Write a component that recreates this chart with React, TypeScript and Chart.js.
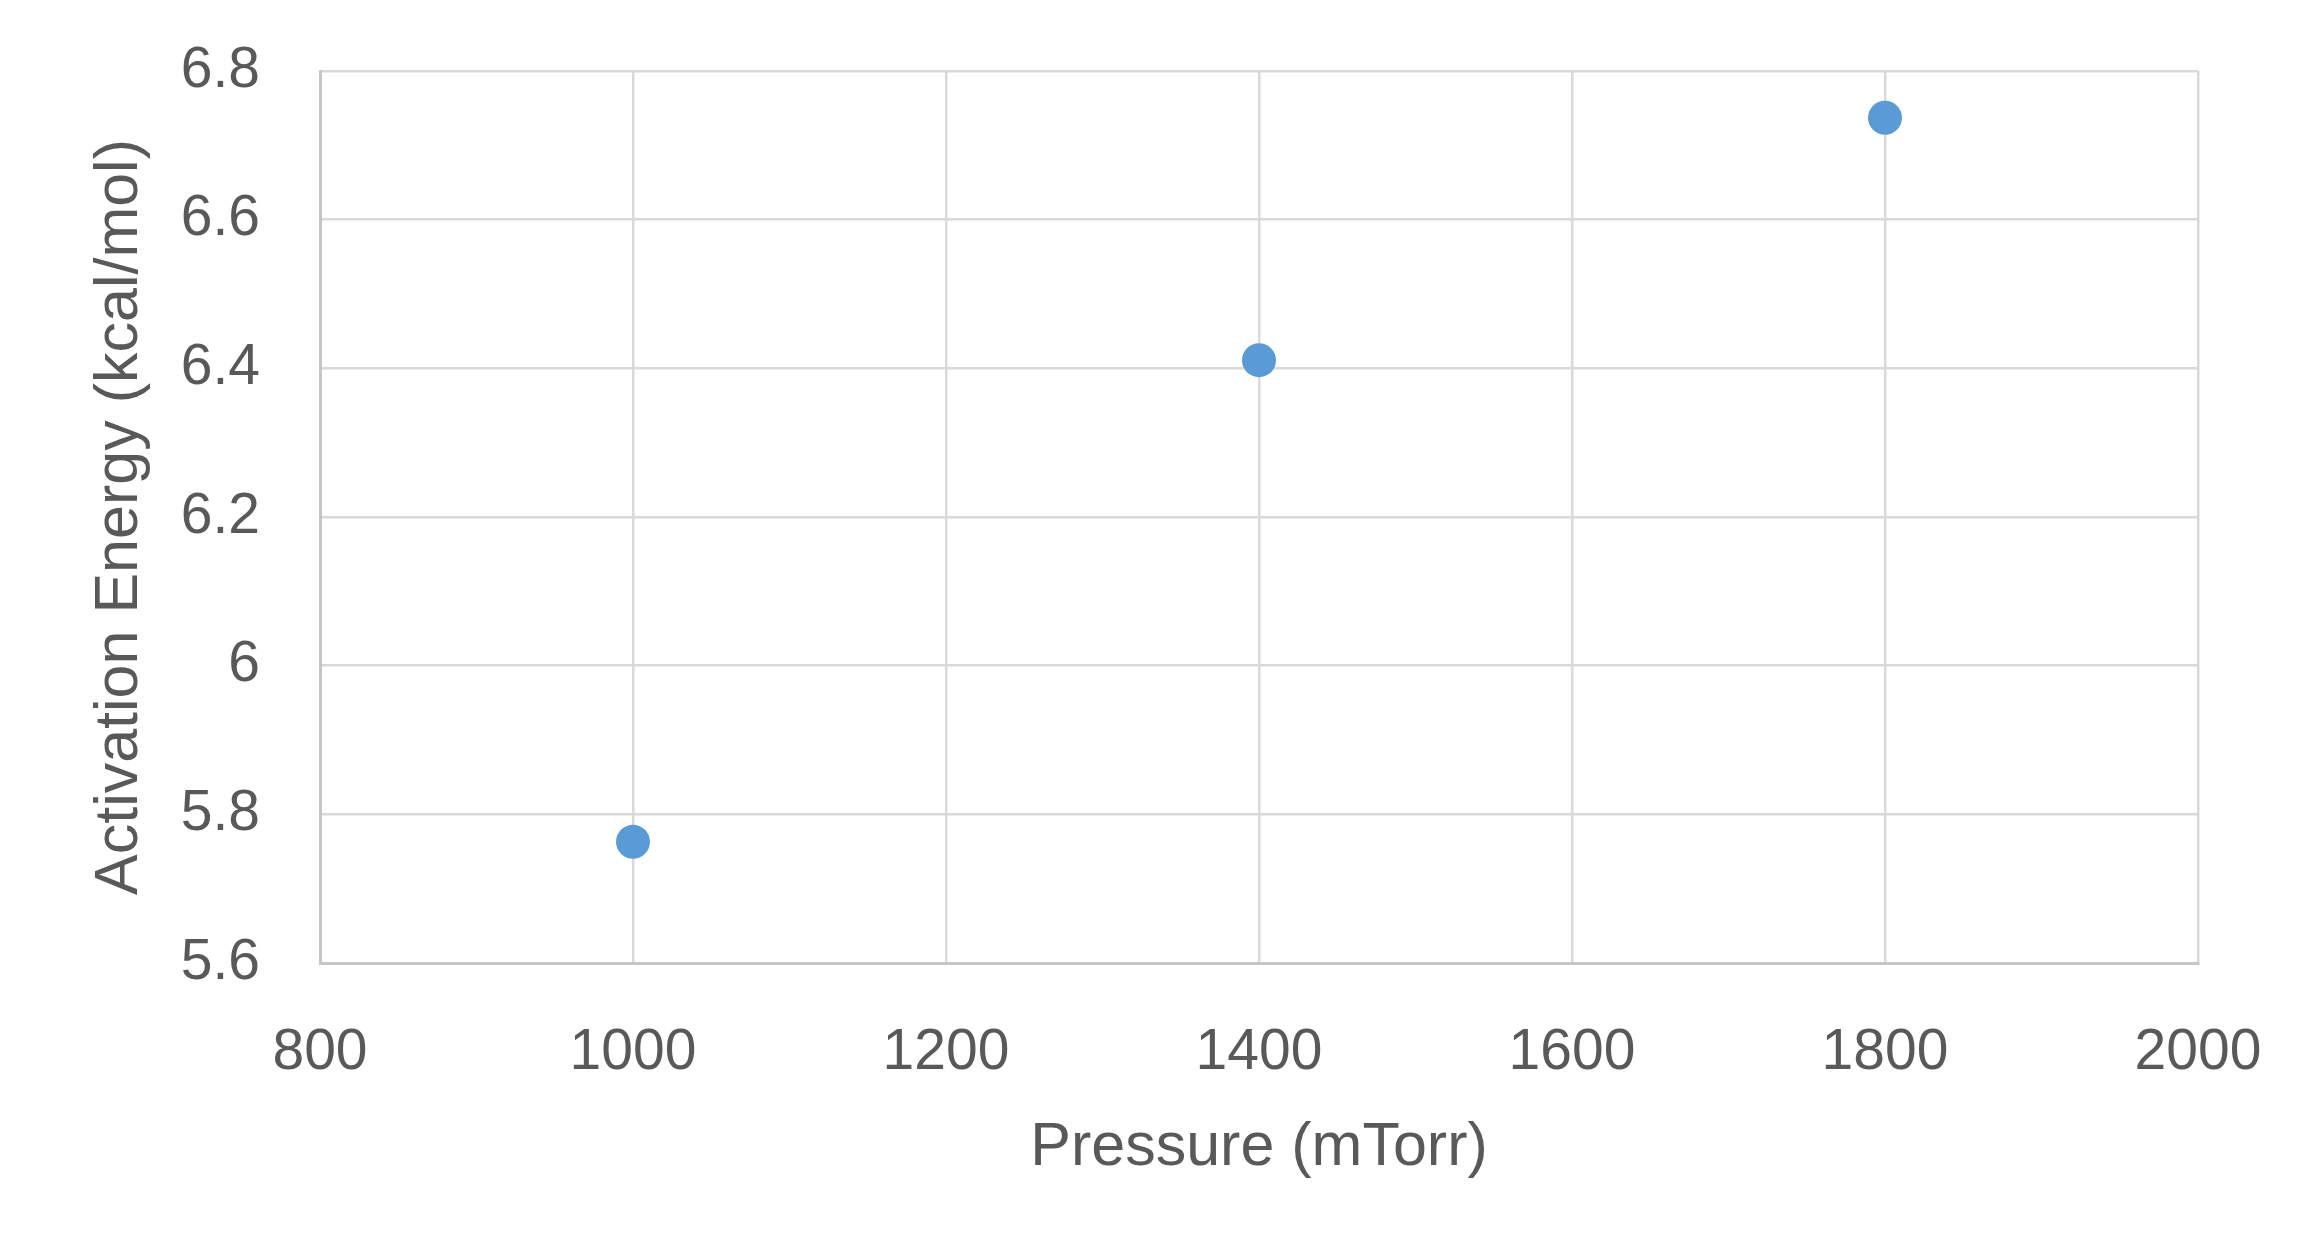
import React, { useEffect, useRef } from "react";
import { Chart, registerables } from "chart.js";

Chart.register(...registerables);

const pressures = [1000, 1400, 1800];
const activationEnergy = [5.763, 6.411, 6.737];
const xTickValues = [800, 1000, 1200, 1400, 1600, 1800, 2000];
const yTickValues = [5.6, 5.8, 6.0, 6.2, 6.4, 6.6, 6.8];
const xTitle = "Pressure (mTorr)";
const yTitle = "Activation Energy (kcal/mol)";

const W = 2313;
const H = 1242;
const FONT = "'Liberation Sans Narrow', 'Liberation Sans', sans-serif";
const TEXT = "#595959";

export default function App() {
  const ref = useRef<HTMLCanvasElement | null>(null);
  useEffect(() => {
    const canvas = ref.current;
    if (!canvas) return;
    const chart = new Chart(canvas, {
      type: "scatter",
      data: {
        datasets: [
          {
            label: "Ea",
            data: pressures.map((x, i) => ({ x, y: activationEnergy[i] })),
            backgroundColor: "#5B9BD5",
            borderColor: "#5B9BD5",
            pointRadius: 17,
            pointHoverRadius: 17,
            borderWidth: 0,
          },
        ],
      },
      options: {
        responsive: false,
        animation: false,
        devicePixelRatio: 1,
        layout: { padding: { left: 0, right: 115, top: 71, bottom: 0 } },
        plugins: { legend: { display: false }, tooltip: { enabled: false } },
        scales: {
          x: {
            type: "linear",
            min: 800,
            max: 2000,
            afterBuildTicks: (s: any) => {
              s.ticks = xTickValues.map((v) => ({ value: v }));
            },
            afterFit: (s: any) => {
              s.height = H - 963;
              s.paddingLeft = 0;
              s.paddingRight = 0;
            },
            grid: { color: "#d9d9d9", lineWidth: 2.5, drawTicks: false },
            border: { color: "#c6c6c6", width: 3 },
            ticks: {
              color: TEXT,
              padding: 56,
              font: { family: FONT, size: 57 },
              callback: (v: any) => String(v),
            },
            title: {
              display: true,
              text: xTitle,
              color: TEXT,
              font: { family: FONT, size: 61 },
              padding: { top: 0, bottom: 57 },
            },
          },
          y: {
            type: "linear",
            min: 5.6,
            max: 6.8,
            afterBuildTicks: (s: any) => {
              s.ticks = yTickValues.map((v) => ({ value: v }));
            },
            afterFit: (s: any) => {
              s.width = 320;
              s.paddingTop = 0;
              s.paddingBottom = 0;
            },
            grid: { color: "#d9d9d9", lineWidth: 2.5, drawTicks: false },
            border: { color: "#c6c6c6", width: 3 },
            ticks: {
              color: TEXT,
              padding: 60,
              font: { family: FONT, size: 57 },
              callback: (v: any) => {
                const n = Number(v);
                return Math.abs(n - 6) < 1e-9 ? "6" : n.toFixed(1);
              },
            },
            title: {
              display: true,
              text: yTitle,
              color: TEXT,
              font: { family: FONT, size: 61 },
              padding: { top: 84, bottom: 0 },
            },
          },
        },
      },
    });
    return () => chart.destroy();
  }, []);
  return (
    <div style={{ position: "fixed", left: 0, top: 0, width: W, height: H, background: "#fff" }}>
      <canvas ref={ref} width={W} height={H} style={{ width: W, height: H, display: "block" }} />
    </div>
  );
}
